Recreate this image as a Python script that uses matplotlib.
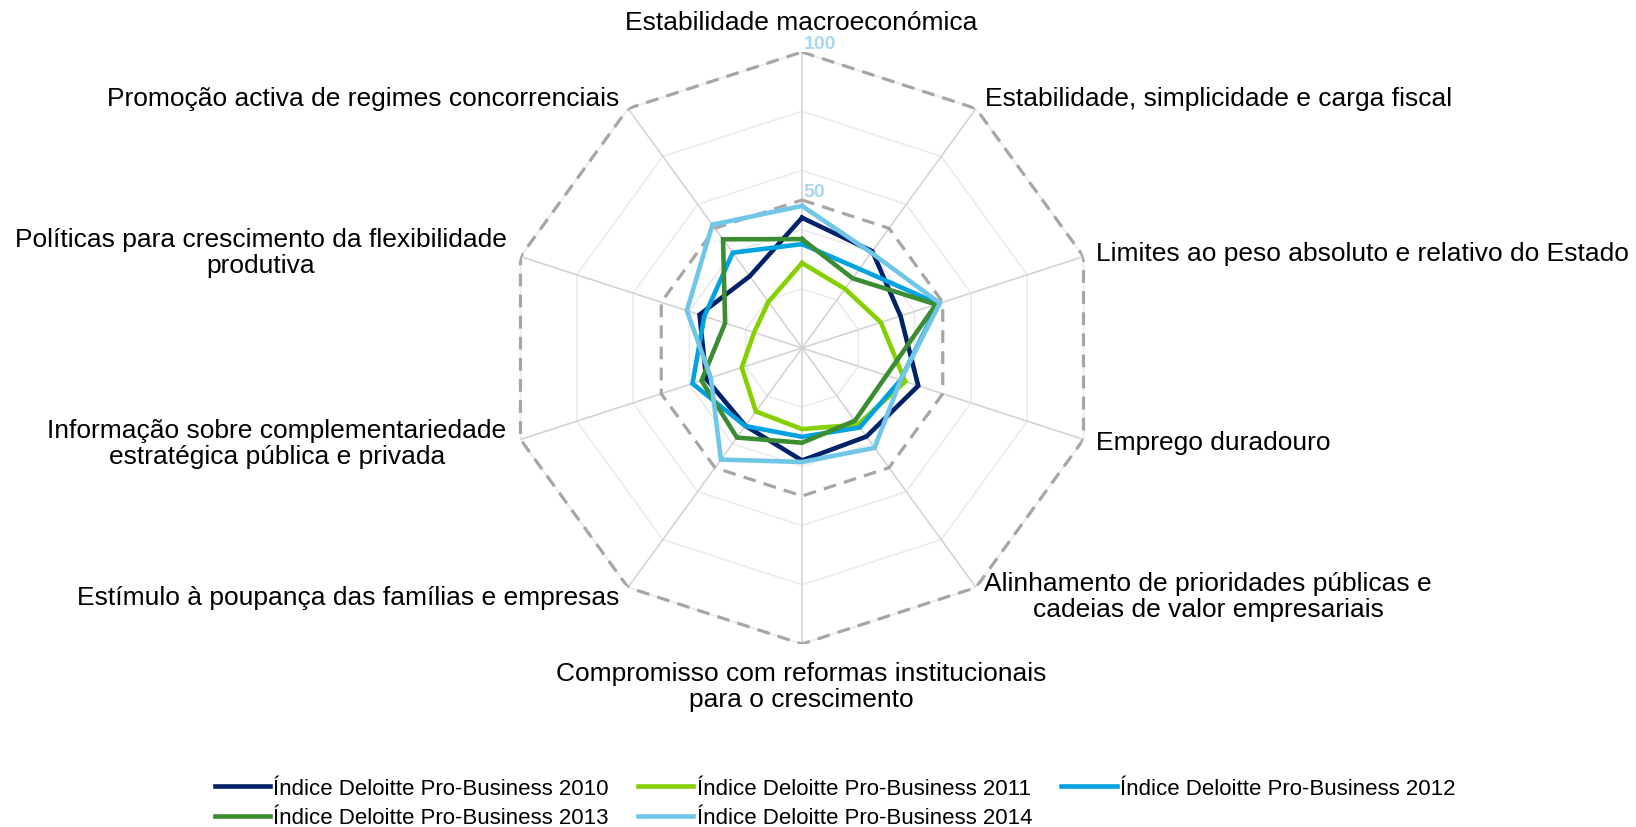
import numpy as np
import matplotlib.pyplot as plt

# categories clockwise from the top
categories = [
    "Estabilidade macroeconómica",
    "Estabilidade, simplicidade e carga fiscal",
    "Limites ao peso absoluto e relativo do Estado",
    "Emprego duradouro",
    "Alinhamento de prioridades públicas e\ncadeias de valor empresariais",
    "Compromisso com reformas institucionais\npara o crescimento",
    "Estímulo à poupança das famílias e empresas",
    "Informação sobre complementariedade\nestratégica pública e privada",
    "Políticas para crescimento da flexibilidade\nprodutiva",
    "Promoção activa de regimes concorrenciais",
]

idx_2010 = [44, 40.4, 35, 41.3, 37, 38, 32.5, 34, 36.4, 30]
idx_2011 = [28.7, 24.7, 28, 36.7, 32, 27.4, 26.5, 21.4, 17, 19.3]
idx_2012 = [35.1, 33, 48.4, 35, 33.2, 30, 32.6, 38.9, 34.7, 39.8]
idx_2013 = [36.8, 29.1, 47.6, 30, 30.4, 32, 37.4, 35.7, 27.3, 45.4]
idx_2014 = [48, 39.8, 49, 35, 41.7, 38.5, 46.6, 32.4, 40.9, 51.5]

series_names = ["Índice Deloitte Pro-Business 2010", "Índice Deloitte Pro-Business 2011",
                "Índice Deloitte Pro-Business 2012", "Índice Deloitte Pro-Business 2013",
                "Índice Deloitte Pro-Business 2014"]
colors = ["#012169", "#86D000", "#00A3E0", "#3B8C32", "#70C6E6"]

grid_levels = [20, 40, 60, 80, 100]
dashed_levels = [50, 100]

W, H = 1636, 828
fig = plt.figure(figsize=(W / 100, H / 100), dpi=100)
plt.rcParams['font.family'] = ['Liberation Sans', 'DejaVu Sans']

cx, cy, R = 802, 349, 296
ax = fig.add_axes([(cx - R) / W, (H - cy - R) / H, 2 * R / W, 2 * R / H], projection='polar')
ax.set_theta_zero_location('N')
ax.set_theta_direction(-1)
ax.set_ylim(0, 100)
ax.grid(False)
ax.set_xticks([])
ax.set_yticks([])
ax.spines['polar'].set_visible(False)
ax.patch.set_alpha(0)

n = len(categories)
theta = np.arange(n) * 2 * np.pi / n
theta_c = np.append(theta, theta[0])

for lv in grid_levels:
    ax.plot(theta_c, [lv] * (n + 1), color="#EBEBEB", lw=1.2, zorder=1)
for t in theta:
    ax.plot([t, t], [0, 100], color="#D4D4D4", lw=1.2, zorder=1)
for lv in dashed_levels:
    ax.plot(theta_c, [lv] * (n + 1), color="#A6A6A6", lw=2.3,
            linestyle=(0, (4, 2.6)), zorder=2)

all_series = [idx_2010, idx_2011, idx_2012, idx_2013, idx_2014]
lines = []
for vals, name, col in zip(all_series, series_names, colors):
    v = list(vals) + [vals[0]]
    ln, = ax.plot(theta_c, v, color=col, lw=3.3, label=name, zorder=3,
                  solid_joinstyle='miter')
    lines.append(ln)

for lv in dashed_levels:
    ax.annotate(str(lv), xy=(0, lv), xytext=(1, 0), textcoords='offset points',
                ha='left', va='bottom', color="#A8D8EE", fontsize=14,
                fontweight='bold', zorder=4)

# category labels (pixel positions of the reference layout)
label_pos = [
    (801, 23, 'center'), (985, 99, 'left'), (1096, 254, 'left'), (1096, 443, 'left'),
    (1208, 597, 'center'), (801, 687, 'center'), (619, 598, 'right'),
    (277, 444, 'center'), (261, 253, 'center'), (619, 99, 'right'),
]
for lab, (x, y, ha) in zip(categories, label_pos):
    fig.text(x / W, 1 - y / H, lab, ha=ha, va='center', fontsize=19,
             multialignment='center', color='black', linespacing=1.15)

order = [0, 3, 1, 4, 2]
leg = fig.legend([lines[i] for i in order], [series_names[i] for i in order],
                 loc='center', bbox_to_anchor=(835 / W, 1 - 804 / H), ncol=3,
                 frameon=False, handlelength=2.5, handletextpad=0.15,
                 columnspacing=1.3, labelspacing=0.4,
                 prop={'family': ['Liberation Sans Narrow', 'Liberation Sans'], 'size': 16})

fig.savefig("out.png", dpi=100)
